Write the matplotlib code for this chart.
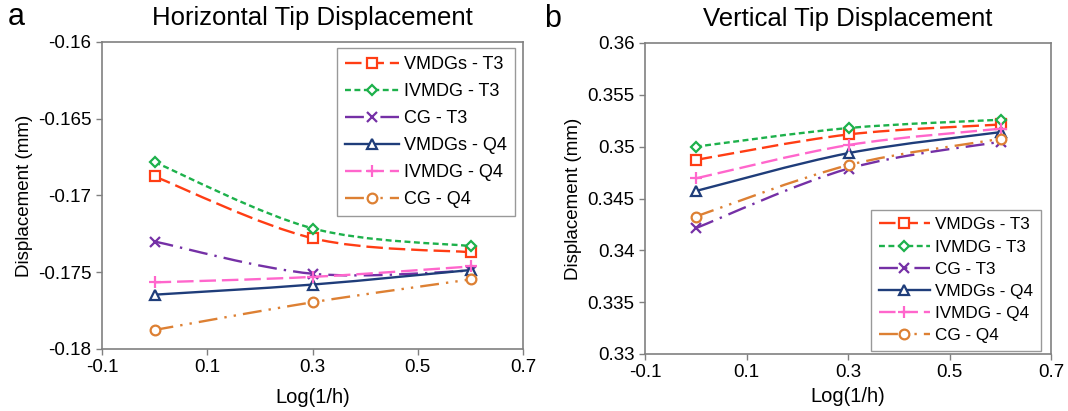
import matplotlib
matplotlib.use("Agg")
import matplotlib.pyplot as plt
from matplotlib.path import Path
from matplotlib.patches import PathPatch
from matplotlib.lines import Line2D
import numpy as np

plt.rcParams['font.family'] = ['Liberation Sans', 'DejaVu Sans']

# data
log_inv_h = [0.0, 0.301, 0.602]
series_names = ["VMDGs - T3", "IVMDG - T3", "CG - T3", "VMDGs - Q4", "IVMDG - Q4", "CG - Q4"]

horiz_vmdgs_t3 = [-0.16876, -0.17279, -0.17370]
horiz_ivmdg_t3 = [-0.16783, -0.17215, -0.17330]
horiz_cg_t3    = [-0.17300, -0.17510, -0.17490]
horiz_vmdgs_q4 = [-0.17646, -0.17580, -0.17485]
horiz_ivmdg_q4 = [-0.17566, -0.17530, -0.17462]
horiz_cg_q4    = [-0.17876, -0.17695, -0.17546]

vert_vmdgs_t3 = [0.34872, 0.35118, 0.35214]
vert_ivmdg_t3 = [0.35000, 0.35180, 0.35260]
vert_cg_t3    = [0.34214, 0.34789, 0.35049]
vert_vmdgs_q4 = [0.34572, 0.34938, 0.35141]
vert_ivmdg_q4 = [0.34694, 0.35016, 0.35174]
vert_cg_q4    = [0.34326, 0.34822, 0.35076]

horiz = [horiz_vmdgs_t3, horiz_ivmdg_t3, horiz_cg_t3, horiz_vmdgs_q4, horiz_ivmdg_q4, horiz_cg_q4]
vert = [vert_vmdgs_t3, vert_ivmdg_t3, vert_cg_t3, vert_vmdgs_q4, vert_ivmdg_q4, vert_cg_q4]

# styles
colors = ['#FF3D14', '#1DB14B', '#7530A6', '#1F3D7A', '#FF66CC', '#DD8033']
dashes = [(0, (7, 2.5)), (0, (2.5, 1.5)), (0, (8, 3, 1, 3)), 'solid', (0, (7, 2.5)), (0, (8, 3, 1, 3, 1, 3))]
markers = ['s', 'D', 'x', '^', '+', 'o']
msizes = [7, 5.5, 7, 7, 9, 7]
lw = 1.7


def smooth_path(x, y):
    # Excel-like smoothed line: catmull-rom segments as cubic beziers
    pts = np.column_stack([x, y])
    n = len(pts)
    verts = [pts[0]]
    codes = [Path.MOVETO]
    for i in range(n - 1):
        p0 = pts[i - 1] if i > 0 else pts[i]
        p1 = pts[i]
        p2 = pts[i + 1]
        p3 = pts[i + 2] if i + 2 < n else pts[i + 1]
        c1 = p1 + (p2 - p0) / 6.0
        c2 = p2 - (p3 - p1) / 6.0
        verts += [c1, c2, p2]
        codes += [Path.CURVE4] * 3
    return Path(verts, codes)


def draw_panel(ax, data, ylim, yticks, ytick_labels, title, legend_loc, legend_anchor,
               leg_fs, leg_space, xlabelpad):
    for i, ys in enumerate(data):
        patch = PathPatch(smooth_path(log_inv_h, ys), fill=False, edgecolor=colors[i],
                          linewidth=lw, linestyle=dashes[i], zorder=2)
        ax.add_patch(patch)
        ax.plot(log_inv_h, ys, linestyle='none', marker=markers[i], markersize=msizes[i],
                markeredgecolor=colors[i], markerfacecolor='white', markeredgewidth=1.6, zorder=3)
    handles = [Line2D([], [], color=colors[i], linestyle=dashes[i], linewidth=lw,
                      marker=markers[i], markersize=msizes[i], markerfacecolor='white',
                      markeredgewidth=1.6) for i in range(len(series_names))]
    leg = ax.legend(handles, series_names, loc=legend_loc, bbox_to_anchor=legend_anchor,
                    fontsize=leg_fs, frameon=True,
                    fancybox=False, edgecolor='#808080', handlelength=3.0, handletextpad=0.3,
                    labelspacing=leg_space, borderaxespad=0.0, borderpad=0.45)
    leg.get_frame().set_linewidth(1.0)
    ax.set_xlim(-0.1, 0.7)
    ax.set_xticks([-0.1, 0.1, 0.3, 0.5, 0.7])
    ax.set_xticklabels(['-0.1', '0.1', '0.3', '0.5', '0.7'])
    ax.set_ylim(*ylim)
    ax.set_yticks(yticks)
    ax.set_yticklabels(ytick_labels)
    ax.tick_params(labelsize=13.5, direction='out', length=4, color='#808080', width=1)
    for s in ax.spines.values():
        s.set_color('#808080')
        s.set_linewidth(1.2)
    ax.set_xlabel("Log(1/h)", fontsize=14.5, labelpad=xlabelpad)
    ax.set_ylabel("Displacement (mm)", fontsize=13.5)
    ax.set_title(title, fontsize=18.5, pad=12)


fig = plt.figure(figsize=(10.68, 4.11), dpi=100)
ax1 = fig.add_axes([102 / 1068, 1 - 349 / 411, 421 / 1068, 307 / 411])
ax2 = fig.add_axes([645 / 1068, 1 - 354 / 411, 406 / 1068, 311 / 411])

draw_panel(ax1, horiz, (-0.18, -0.16), [-0.18, -0.175, -0.17, -0.165, -0.16],
           ['-0.18', '-0.175', '-0.17', '-0.165', '-0.16'],
           "Horizontal Tip Displacement", 'upper right', (0.982, 0.98), 13, 0.55, 8)
draw_panel(ax2, vert, (0.33, 0.36), [0.33, 0.335, 0.34, 0.345, 0.35, 0.355, 0.36],
           ['0.33', '0.335', '0.34', '0.345', '0.35', '0.355', '0.36'],
           "Vertical Tip Displacement", 'lower right', (0.975, 0.01), 12.3, 0.42, 4)

fig.text(8 / 1068, 1 - 17 / 411, "a", fontsize=22, va='center', ha='left')
fig.text(544 / 1068, 1 - 19 / 411, "b", fontsize=22, va='center', ha='left')

fig.savefig("out.png", dpi=100)
